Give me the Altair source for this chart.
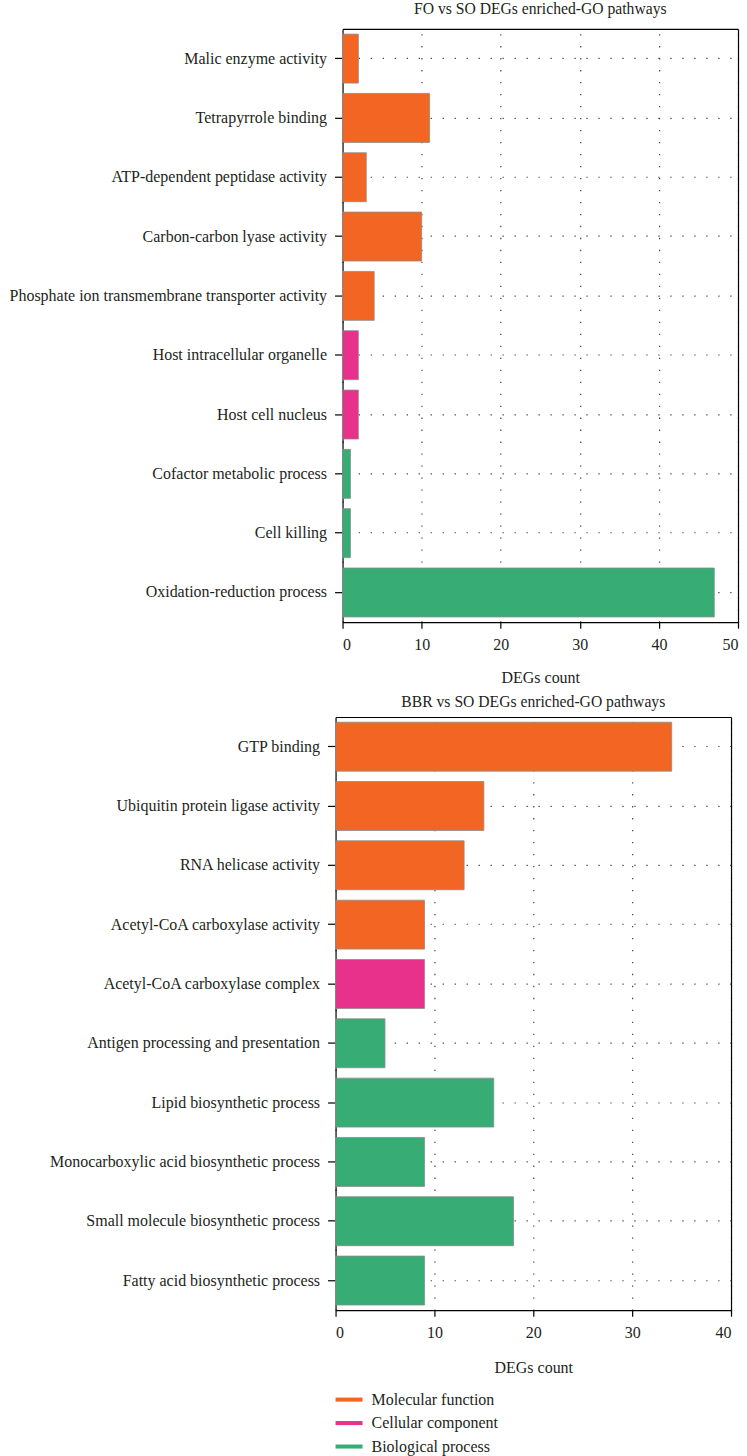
import altair as alt
import pandas as pd

# GO categories and their colours
categories = ["Molecular function", "Cellular component", "Biological process"]
category_colors = ["#F26522", "#E8318A", "#37AC74"]

# FO vs SO enriched GO terms (top to bottom)
fo_terms = [
    "Malic enzyme activity",
    "Tetrapyrrole binding",
    "ATP-dependent peptidase activity",
    "Carbon-carbon lyase activity",
    "Phosphate ion transmembrane transporter activity",
    "Host intracellular organelle",
    "Host cell nucleus",
    "Cofactor metabolic process",
    "Cell killing",
    "Oxidation-reduction process",
]
fo_counts = [2, 11, 3, 10, 4, 2, 2, 1, 1, 47]
fo_cats = ["Molecular function"] * 5 + ["Cellular component"] * 2 + ["Biological process"] * 3

# BBR vs SO enriched GO terms (top to bottom)
bbr_terms = [
    "GTP binding",
    "Ubiquitin protein ligase activity",
    "RNA helicase activity",
    "Acetyl-CoA carboxylase activity",
    "Acetyl-CoA carboxylase complex",
    "Antigen processing and presentation",
    "Lipid biosynthetic process",
    "Monocarboxylic acid biosynthetic process",
    "Small molecule biosynthetic process",
    "Fatty acid biosynthetic process",
]
bbr_counts = [34, 15, 13, 9, 9, 5, 16, 9, 18, 9]
bbr_cats = ["Molecular function"] * 4 + ["Cellular component"] * 1 + ["Biological process"] * 5

FONT = "Liberation Serif"
TEXT = "#231f20"
FS = 16
PLOT_W = 396
PLOT_H = 594
DOTS = [1.3, 10.7]

color_scale = alt.Scale(domain=categories, range=category_colors)

# flat bar-shaped legend swatch (unit path, scaled by symbolSize)
SWATCH = "M-1,-0.15H1V0.15H-1Z"


def panel(terms, counts, cats, title, xmax, inset, title_offset, x_title_pad, legend):
    """Bar panel; `inset` moves the plot frame right inside the panel group."""
    df = pd.DataFrame({"term": terms, "count": counts, "category": cats})
    width = PLOT_W + inset
    x_scale = alt.Scale(domain=[0, xmax], nice=False, range=[inset, width])
    y_scale = alt.Scale(paddingInner=0.175, paddingOuter=0.0875)

    color_legend = None
    if legend:
        color_legend = alt.Legend(
            title=None,
            orient="none",
            legendX=0,
            legendY=670,
            symbolType=SWATCH,
            symbolSize=729,
            symbolStrokeWidth=0,
            labelFont=FONT,
            labelFontSize=FS,
            labelColor=TEXT,
            labelOffset=9,
            rowPadding=1.5,
        )

    base = alt.Chart(df)

    bars = base.mark_bar(stroke="#8c8c8c", strokeWidth=0.8).encode(
        x=alt.X(
            "count:Q",
            title="DEGs count",
            scale=x_scale,
            axis=alt.Axis(
                values=list(range(0, xmax + 1, 10)),
                format="d",
                grid=True,
                gridDash=DOTS,
                gridColor="#444",
                gridWidth=1.2,
                tickSize=6,
                labelPadding=8,
                titlePadding=x_title_pad,
            ),
        ),
        y=alt.Y(
            "term:N",
            sort=terms,
            title=None,
            scale=y_scale,
            axis=alt.Axis(
                grid=False,
                offset=-inset,
                tickSize=8,
                labelPadding=8,
                labelLimit=400,
                minExtent=336,
                maxExtent=336,
            ),
        ),
        color=alt.Color("category:N", scale=color_scale, legend=color_legend),
    )

    # top and right edges of the plot frame, plus the dotted row guides
    frame = base.mark_bar(opacity=0).encode(
        x=alt.X(
            "count:Q",
            scale=x_scale,
            axis=alt.Axis(orient="top", labels=False, ticks=False, grid=False, title=None),
        ),
        y=alt.Y(
            "term:N",
            sort=terms,
            scale=y_scale,
            axis=alt.Axis(
                orient="right",
                labels=False,
                ticks=False,
                title=None,
                grid=True,
                gridDash=DOTS,
                gridColor="#444",
                gridWidth=1.2,
            ),
        ),
    )

    return (
        alt.layer(bars, frame)
        .resolve_axis(x="independent", y="independent")
        .properties(
            width=width,
            height=PLOT_H,
            title=alt.TitleParams(
                title, font=FONT, fontSize=15.7, fontWeight="normal", color=TEXT,
                anchor="middle", offset=title_offset, dx=inset / 2,
            ),
        )
    )


top = panel(fo_terms, fo_counts, fo_cats, "FO vs SO DEGs enriched-GO pathways", 50, 7, 11, 17, False)
bottom = panel(bbr_terms, bbr_counts, bbr_cats, "BBR vs SO DEGs enriched-GO pathways", 40, 0, 6, 19, True)

chart = (
    alt.vconcat(top, bottom, spacing=9)
    .resolve_legend(color="independent")
    .properties(padding={"left": 0, "top": 0, "right": 8, "bottom": 0}, background="white")
    .configure(font=FONT)
    .configure_view(stroke=None)
    .configure_axis(
        domainColor="#000",
        domainWidth=1.2,
        tickColor="#000",
        tickWidth=1.2,
        labelFont=FONT,
        labelFontSize=FS,
        labelColor=TEXT,
        titleFont=FONT,
        titleFontSize=FS,
        titleFontWeight="normal",
        titleColor=TEXT,
    )
    .configure_legend(labelFont=FONT, labelFontSize=FS, labelColor=TEXT)
)

chart.save("out.html", embed_options={"renderer": "svg", "actions": False})
